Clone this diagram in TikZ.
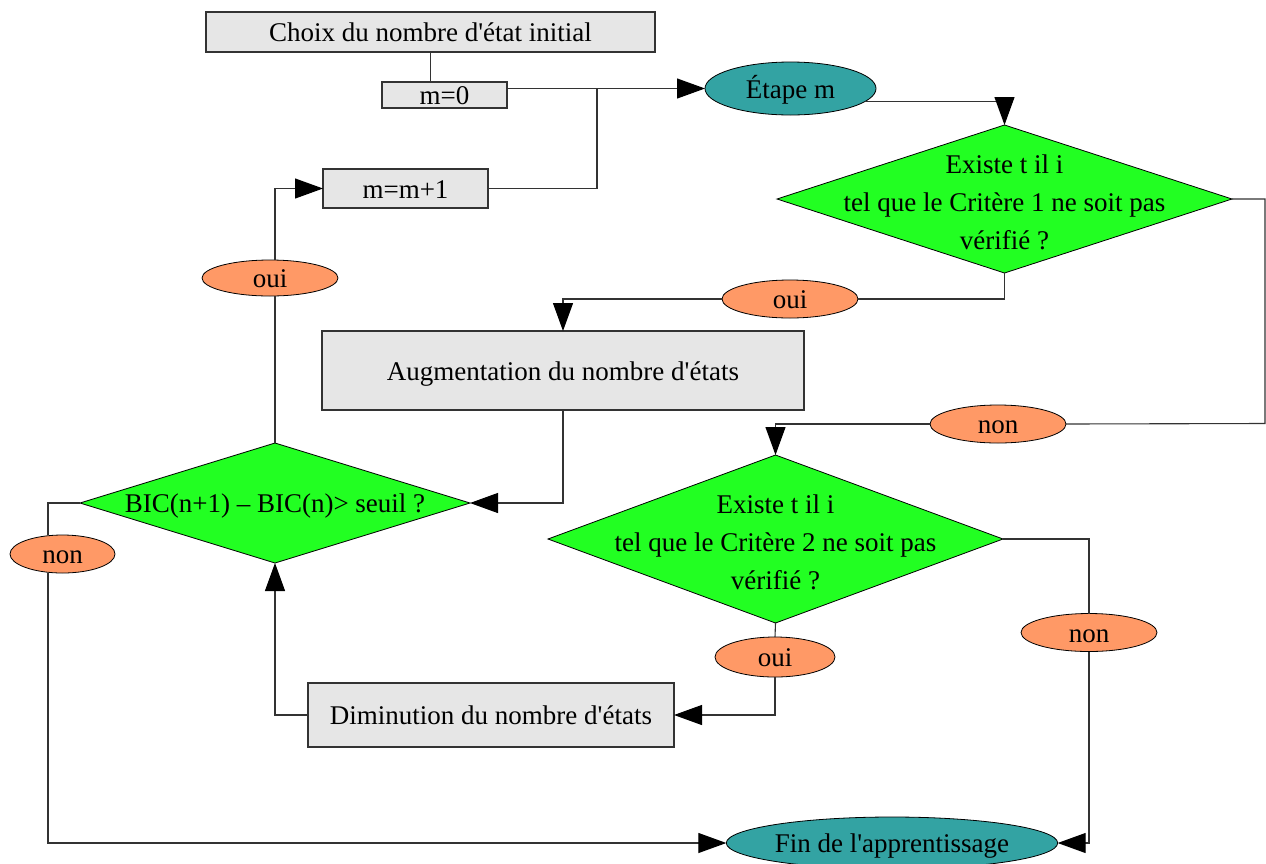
\documentclass[tikz,border=0pt]{standalone}
\usepackage{fontspec}
\setmainfont{Liberation Serif}
\usetikzlibrary{shapes.geometric,arrows.meta,calc}
\definecolor{boxgray}{RGB}{230,230,230}
\definecolor{tealfill}{RGB}{51,163,163}
\definecolor{greenfill}{RGB}{34,255,34}
\definecolor{orangefill}{RGB}{255,153,102}
\begin{document}
\begin{tikzpicture}[x=1pt,y=-1pt,
  every node/.style={font=\fontsize{27}{38}\selectfont, inner sep=0pt, outer sep=0pt},
  box/.style={draw=black!80, fill=boxgray, line width=1.1pt, text height=19pt, text depth=0pt},
  ovl/.style={ellipse, draw=black, line width=0.8pt, text height=19pt, text depth=0pt},
  lbl/.style={ovl, fill=orangefill, minimum width=136pt, minimum height=38pt},
  term/.style={ovl, fill=tealfill},
  dia/.style={diamond, draw=black, fill=greenfill, line width=0.8pt},
  conn/.style={draw=black!80, line width=1.1pt},
  arr/.style={conn, -{Triangle[length=28pt,width=20pt,color=black]}},
]
\useasboundingbox (0,0) rectangle (1266,863);

% nodes
\node[box, minimum width=449pt, minimum height=40pt] (choix) at (430.5,32) {Choix du nombre d\textquotesingle état initial};
\node[box, minimum width=125pt, minimum height=26pt] (m0) at (444.5,95) {m=0};
\node[box, minimum width=165pt, minimum height=39pt] (m1) at (405.5,188.5) {m=m+1};
\node[term, minimum width=171pt, minimum height=53pt] (etape) at (790.5,88.5) {Étape m};
\node[dia, minimum width=455pt, minimum height=148pt] (d1) at (1004.5,199) {};
\node[align=center] (d1t) at (1004.5,202) {Existe t il i\\tel que le Critère 1 ne soit pas\\vérifié ?};
\node[lbl] (oui1) at (790,299) {oui};
\node[box, minimum width=482pt, minimum height=79pt] (aug) at (563,370.5) {Augmentation du nombre d\textquotesingle états};
\node[lbl] (non1) at (998,424) {non};
\node[dia, minimum width=455pt, minimum height=168pt] (d2) at (775.5,539) {};
\node[align=center] (d2t) at (775.5,542) {Existe t il i\\tel que le Critère 2 ne soit pas\\vérifié ?};
\node[lbl] (non2) at (1089,632.5) {non};
\node[lbl, minimum width=120pt, minimum height=40pt] (oui2) at (775,657) {oui};
\node[box, minimum width=366pt, minimum height=64pt] (dim) at (491,715) {Diminution du nombre d\textquotesingle états};
\node[dia, minimum width=390pt, minimum height=120pt] (bic) at (275,503) {};
\node[text height=19pt, text depth=0pt] (bict) at (275,503) {BIC(n+1) – BIC(n)> seuil ?};
\node[lbl, minimum height=36pt] (oui3) at (270,278) {oui};
\node[lbl, minimum width=105pt] (non3) at (62.5,554) {non};
\node[term, minimum width=326pt, minimum height=52pt] (fin) at (892,843) {Fin de l\textquotesingle apprentissage};

% helper coordinates
\coordinate (j) at (597,88.5);
\coordinate (r1) at (1265,423.5);
\coordinate (lc) at (48,0);

% connectors
\draw[conn] (choix.south) -- (choix.south |- m0.north);
\draw[arr] (m0.east |- etape.west) -- (etape.west);
\draw[conn] (m1.east) -| (j);
\draw[arr] (etape.-10) -| (d1.north);
\draw[conn] (d1.south) |- (oui1.east);
\draw[arr] (oui1.west) -| (aug.north);
\draw[conn] (d1.east) -| (r1) -- (non1.east);
\draw[arr] (non1.west) -| (d2.north);
\draw[conn] (d2.east) -| (non2.north);
\draw[arr] (non2.south) |- (fin.east);
\draw[conn] (d2.south) -- (oui2.north);
\draw[arr] (oui2.south) |- (dim.east);
\draw[arr] (dim.west) -| (bic.south);
\draw[arr] (aug.south) |- (bic.east);
\draw[conn] (bic.north) -- (bic.north |- oui3.south);
\draw[arr] (bic.north |- oui3.north) |- (m1.west);
\draw[conn] (bic.west) -| (lc |- non3.north);
\draw[arr] (lc |- non3.south) |- (fin.west);
\end{tikzpicture}
\end{document}
